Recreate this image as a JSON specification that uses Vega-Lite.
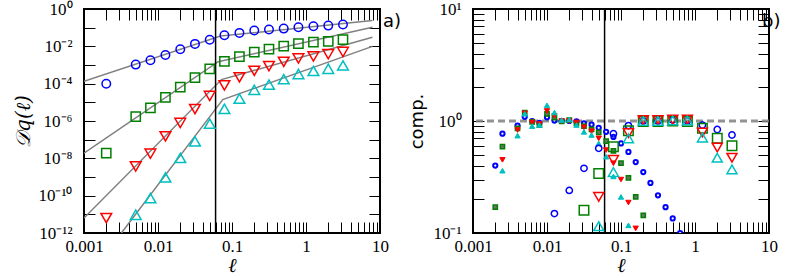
{
  "$schema": "https://vega.github.io/schema/vega-lite/v6.json",
  "autosize": {"type": "none"},
  "padding": {"left": 84, "top": 9, "right": 705, "bottom": 269},
  "background": "white",
  "config": {
    "view": {"stroke": "black", "strokeWidth": 2},
    "axis": {"domain": false, "grid": false, "labelFont": "Liberation Serif", "labelFontSize": 17, "labelColor": "black", "titleColor": "black", "labelFlush": false, "labelOverlap": false, "titleFontWeight": "normal"}
  },
  "datasets": {
    "fits": [
      {"s": "s1", "x": 0.001, "D": 1.35e-4}, {"s": "s1", "x": 0.07, "D": 0.0355}, {"s": "s1", "x": 7.9, "D": 0.24},
      {"s": "s2", "x": 0.001, "D": 1.9e-8}, {"s": "s2", "x": 0.065, "D": 0.00151}, {"s": "s2", "x": 7.9, "D": 0.105},
      {"s": "s3", "x": 0.001, "D": 6.3e-12}, {"s": "s3", "x": 0.072, "D": 1.66e-4}, {"s": "s3", "x": 7.9, "D": 0.031},
      {"s": "s4", "x": 0.0032, "D": 1e-12}, {"s": "s4", "x": 0.075, "D": 1.41e-5}, {"s": "s4", "x": 7.9, "D": 0.01}
    ],
    "pts": [
      {"s": "s1", "x": 0.002, "D": 9.8e-5}, {"s": "s1", "x": 0.005, "D": 1.05e-3}, {"s": "s1", "x": 0.0079, "D": 1.78e-3}, {"s": "s1", "x": 0.0126, "D": 3.47e-3}, {"s": "s1", "x": 0.02, "D": 6.9e-3}, {"s": "s1", "x": 0.0316, "D": 1.35e-2}, {"s": "s1", "x": 0.05, "D": 2.24e-2}, {"s": "s1", "x": 0.079, "D": 3.89e-2}, {"s": "s1", "x": 0.126, "D": 5.25e-2}, {"s": "s1", "x": 0.2, "D": 7.08e-2}, {"s": "s1", "x": 0.316, "D": 7.94e-2}, {"s": "s1", "x": 0.5, "D": 8.91e-2}, {"s": "s1", "x": 0.79, "D": 0.105}, {"s": "s1", "x": 1.26, "D": 0.12}, {"s": "s1", "x": 2, "D": 0.129}, {"s": "s1", "x": 3.16, "D": 0.148},
      {"s": "s2", "x": 0.002, "D": 1.9e-8}, {"s": "s2", "x": 0.005, "D": 1.7e-6}, {"s": "s2", "x": 0.0079, "D": 5.0e-6}, {"s": "s2", "x": 0.0126, "D": 1.86e-5}, {"s": "s2", "x": 0.02, "D": 6.46e-5}, {"s": "s2", "x": 0.0316, "D": 2.09e-4}, {"s": "s2", "x": 0.05, "D": 6.17e-4}, {"s": "s2", "x": 0.079, "D": 1.55e-3}, {"s": "s2", "x": 0.126, "D": 2.82e-3}, {"s": "s2", "x": 0.2, "D": 4.9e-3}, {"s": "s2", "x": 0.316, "D": 7.08e-3}, {"s": "s2", "x": 0.5, "D": 1.02e-2}, {"s": "s2", "x": 0.79, "D": 1.41e-2}, {"s": "s2", "x": 1.26, "D": 1.66e-2}, {"s": "s2", "x": 2, "D": 1.86e-2}, {"s": "s2", "x": 3.16, "D": 2.29e-2},
      {"s": "s3", "x": 0.002, "D": 6.3e-12}, {"s": "s3", "x": 0.005, "D": 3.7e-9}, {"s": "s3", "x": 0.0079, "D": 1.78e-8}, {"s": "s3", "x": 0.0126, "D": 1.51e-7}, {"s": "s3", "x": 0.02, "D": 7.9e-7}, {"s": "s3", "x": 0.0316, "D": 4.37e-6}, {"s": "s3", "x": 0.05, "D": 2.19e-5}, {"s": "s3", "x": 0.079, "D": 8.1e-5}, {"s": "s3", "x": 0.126, "D": 2.19e-4}, {"s": "s3", "x": 0.2, "D": 4.9e-4}, {"s": "s3", "x": 0.316, "D": 8.7e-4}, {"s": "s3", "x": 0.5, "D": 1.48e-3}, {"s": "s3", "x": 0.79, "D": 2.24e-3}, {"s": "s3", "x": 1.26, "D": 2.88e-3}, {"s": "s3", "x": 2, "D": 3.8e-3}, {"s": "s3", "x": 3.16, "D": 5.0e-3},
      {"s": "s4", "x": 0.005, "D": 9.5e-12}, {"s": "s4", "x": 0.0079, "D": 7.4e-11}, {"s": "s4", "x": 0.0126, "D": 9.5e-10}, {"s": "s4", "x": 0.02, "D": 1.05e-8}, {"s": "s4", "x": 0.0316, "D": 8.1e-8}, {"s": "s4", "x": 0.05, "D": 7.2e-7}, {"s": "s4", "x": 0.079, "D": 4.47e-6}, {"s": "s4", "x": 0.126, "D": 1.58e-5}, {"s": "s4", "x": 0.2, "D": 4.68e-5}, {"s": "s4", "x": 0.316, "D": 8.9e-5}, {"s": "s4", "x": 0.5, "D": 1.74e-4}, {"s": "s4", "x": 0.79, "D": 3.3e-4}, {"s": "s4", "x": 1.26, "D": 4.8e-4}, {"s": "s4", "x": 2, "D": 6.3e-4}, {"s": "s4", "x": 3.16, "D": 9.5e-4}
    ],
    "big": [
      {"s": "s1", "x": 0.0126, "c": 0.149}, {"s": "s1", "x": 0.02, "c": 0.24}, {"s": "s1", "x": 0.0316, "c": 0.378}, {"s": "s1", "x": 0.05, "c": 0.57}, {"s": "s1", "x": 0.079, "c": 0.77}, {"s": "s1", "x": 0.126, "c": 0.91}, {"s": "s1", "x": 0.2, "c": 1.0}, {"s": "s1", "x": 0.316, "c": 1.0}, {"s": "s1", "x": 0.5, "c": 1.02}, {"s": "s1", "x": 0.79, "c": 1.0}, {"s": "s1", "x": 1.26, "c": 0.92}, {"s": "s1", "x": 2, "c": 0.84}, {"s": "s1", "x": 3.16, "c": 0.75},
      {"s": "s2", "x": 0.0316, "c": 0.16}, {"s": "s2", "x": 0.05, "c": 0.34}, {"s": "s2", "x": 0.079, "c": 0.59}, {"s": "s2", "x": 0.126, "c": 0.82}, {"s": "s2", "x": 0.2, "c": 0.99}, {"s": "s2", "x": 0.316, "c": 0.99}, {"s": "s2", "x": 0.5, "c": 1.0}, {"s": "s2", "x": 0.79, "c": 0.99}, {"s": "s2", "x": 1.26, "c": 0.86}, {"s": "s2", "x": 2, "c": 0.70}, {"s": "s2", "x": 3.16, "c": 0.60},
      {"s": "s3", "x": 0.05, "c": 0.21}, {"s": "s3", "x": 0.079, "c": 0.45}, {"s": "s3", "x": 0.126, "c": 0.78}, {"s": "s3", "x": 0.2, "c": 1.02}, {"s": "s3", "x": 0.316, "c": 1.02}, {"s": "s3", "x": 0.5, "c": 1.03}, {"s": "s3", "x": 0.79, "c": 1.03}, {"s": "s3", "x": 1.26, "c": 0.79}, {"s": "s3", "x": 2, "c": 0.58}, {"s": "s3", "x": 3.16, "c": 0.47},
      {"s": "s4", "x": 0.05, "c": 0.115}, {"s": "s4", "x": 0.079, "c": 0.35}, {"s": "s4", "x": 0.126, "c": 0.70}, {"s": "s4", "x": 0.2, "c": 1.0}, {"s": "s4", "x": 0.316, "c": 1.0}, {"s": "s4", "x": 0.5, "c": 1.01}, {"s": "s4", "x": 0.79, "c": 1.01}, {"s": "s4", "x": 1.26, "c": 0.71}, {"s": "s4", "x": 2, "c": 0.47}, {"s": "s4", "x": 3.16, "c": 0.37}
    ],
    "small": [
      {"s": "s1", "x": 0.002, "c": 0.40}, {"s": "s1", "x": 0.0025, "c": 0.77}, {"s": "s1", "x": 0.004, "c": 0.91}, {"s": "s1", "x": 0.005, "c": 1.09}, {"s": "s1", "x": 0.0063, "c": 1.0}, {"s": "s1", "x": 0.0079, "c": 0.96}, {"s": "s1", "x": 0.01, "c": 1.08}, {"s": "s1", "x": 0.0126, "c": 1.01}, {"s": "s1", "x": 0.0158, "c": 1.0}, {"s": "s1", "x": 0.02, "c": 1.0}, {"s": "s1", "x": 0.025, "c": 0.99}, {"s": "s1", "x": 0.0316, "c": 0.95}, {"s": "s1", "x": 0.04, "c": 0.93}, {"s": "s1", "x": 0.05, "c": 0.87}, {"s": "s1", "x": 0.063, "c": 0.80}, {"s": "s1", "x": 0.079, "c": 0.72}, {"s": "s1", "x": 0.1, "c": 0.63}, {"s": "s1", "x": 0.126, "c": 0.53}, {"s": "s1", "x": 0.158, "c": 0.43}, {"s": "s1", "x": 0.2, "c": 0.35}, {"s": "s1", "x": 0.25, "c": 0.28}, {"s": "s1", "x": 0.316, "c": 0.217}, {"s": "s1", "x": 0.4, "c": 0.17}, {"s": "s1", "x": 0.5, "c": 0.135}, {"s": "s1", "x": 0.63, "c": 0.1},
      {"s": "s2", "x": 0.002, "c": 0.17}, {"s": "s2", "x": 0.0025, "c": 0.59}, {"s": "s2", "x": 0.004, "c": 0.86}, {"s": "s2", "x": 0.005, "c": 1.19}, {"s": "s2", "x": 0.0063, "c": 0.98}, {"s": "s2", "x": 0.0079, "c": 0.92}, {"s": "s2", "x": 0.01, "c": 1.16}, {"s": "s2", "x": 0.0126, "c": 1.07}, {"s": "s2", "x": 0.0158, "c": 0.99}, {"s": "s2", "x": 0.02, "c": 1.02}, {"s": "s2", "x": 0.025, "c": 0.95}, {"s": "s2", "x": 0.0316, "c": 0.90}, {"s": "s2", "x": 0.04, "c": 0.84}, {"s": "s2", "x": 0.05, "c": 0.79}, {"s": "s2", "x": 0.063, "c": 0.66}, {"s": "s2", "x": 0.079, "c": 0.54}, {"s": "s2", "x": 0.1, "c": 0.42}, {"s": "s2", "x": 0.126, "c": 0.31}, {"s": "s2", "x": 0.158, "c": 0.21}, {"s": "s2", "x": 0.2, "c": 0.144},
      {"s": "s3", "x": 0.0025, "c": 0.45}, {"s": "s3", "x": 0.004, "c": 0.83}, {"s": "s3", "x": 0.005, "c": 1.17}, {"s": "s3", "x": 0.0063, "c": 0.97}, {"s": "s3", "x": 0.0079, "c": 0.94}, {"s": "s3", "x": 0.01, "c": 1.23}, {"s": "s3", "x": 0.0126, "c": 1.11}, {"s": "s3", "x": 0.0158, "c": 1.0}, {"s": "s3", "x": 0.02, "c": 1.0}, {"s": "s3", "x": 0.025, "c": 0.97}, {"s": "s3", "x": 0.0316, "c": 0.88}, {"s": "s3", "x": 0.04, "c": 0.81}, {"s": "s3", "x": 0.05, "c": 0.70}, {"s": "s3", "x": 0.063, "c": 0.55}, {"s": "s3", "x": 0.079, "c": 0.42}, {"s": "s3", "x": 0.1, "c": 0.30}, {"s": "s3", "x": 0.126, "c": 0.187}, {"s": "s3", "x": 0.158, "c": 0.11},
      {"s": "s4", "x": 0.0025, "c": 0.36}, {"s": "s4", "x": 0.004, "c": 0.74}, {"s": "s4", "x": 0.005, "c": 1.16}, {"s": "s4", "x": 0.0063, "c": 0.90}, {"s": "s4", "x": 0.0079, "c": 0.92}, {"s": "s4", "x": 0.01, "c": 1.38}, {"s": "s4", "x": 0.0126, "c": 1.19}, {"s": "s4", "x": 0.0158, "c": 1.02}, {"s": "s4", "x": 0.02, "c": 1.03}, {"s": "s4", "x": 0.025, "c": 0.92}, {"s": "s4", "x": 0.0316, "c": 0.80}, {"s": "s4", "x": 0.04, "c": 0.75}, {"s": "s4", "x": 0.05, "c": 0.63}, {"s": "s4", "x": 0.063, "c": 0.48}, {"s": "s4", "x": 0.079, "c": 0.32}, {"s": "s4", "x": 0.1, "c": 0.21}, {"s": "s4", "x": 0.126, "c": 0.117}
    ]
  },
  "hconcat": [
    {
      "width": 296, "height": 224,
      "resolve": {"axis": {"x": "independent", "y": "independent"}},
      "layer": [
        {"data": {"name": "fits"}, "mark": {"type": "line", "color": "#808080", "strokeWidth": 1.5, "clip": true},
         "encoding": {
           "x": {"field": "x", "type": "quantitative", "scale": {"type": "log", "domain": [0.001, 10], "nice": false},
                 "axis": {"orient": "bottom", "values": [0.001,0.002,0.003,0.004,0.005,0.006,0.007,0.008,0.009,0.01,0.02,0.03,0.04,0.05,0.06,0.07,0.08,0.09,0.1,0.2,0.3,0.4,0.5,0.6,0.7,0.8,0.9,1,2,3,4,5,6,7,8,9,10], "offset": -11, "ticks": true, "tickSize": 11, "tickColor": "#000000", "tickWidth": 1, "labelPadding": 5,
                          "labelExpr": "abs(log(datum.value)/LN10-round(log(datum.value)/LN10))<0.001 ? format(datum.value,'~g') : ''",
                          "title": "ℓ", "titleFont": "Liberation Serif", "titleFontStyle": "italic", "titleFontSize": 20, "titlePadding": 1}},
           "y": {"field": "D", "type": "quantitative", "scale": {"type": "log", "domain": [1e-12, 1], "nice": false},
                 "axis": {"orient": "left", "values": [1e-12,1e-11,1e-10,1e-9,1e-8,1e-7,1e-6,1e-5,1e-4,0.001,0.01,0.1,1], "offset": -11, "ticks": true, "tickSize": 11, "tickColor": "#000000", "tickWidth": 1, "labelPadding": 12,
                          "labelExpr": "['10⁻¹²','','10⁻¹⁰','','10⁻⁸','','10⁻⁶','','10⁻⁴','','10⁻²','','10⁰'][round(log(datum.value)/LN10)+12]",
                          "title": "𝒟q(ℓ)", "titleFont": "DejaVu Serif", "titleFontStyle": "italic", "titleFontSize": 20, "titlePadding": 4}},
           "detail": {"field": "s"}
         }},
        {"data": {"values": [{"x": 0.06}]}, "mark": {"type": "rule", "color": "black", "strokeWidth": 1.5},
         "encoding": {"x": {"field": "x", "type": "quantitative", "scale": {"type": "log", "domain": [0.001, 10], "nice": false},
                 "axis": {"orient": "top", "values": [0.001,0.002,0.003,0.004,0.005,0.006,0.007,0.008,0.009,0.01,0.02,0.03,0.04,0.05,0.06,0.07,0.08,0.09,0.1,0.2,0.3,0.4,0.5,0.6,0.7,0.8,0.9,1,2,3,4,5,6,7,8,9,10], "offset": -11, "ticks": true, "tickSize": 11, "tickColor": "#000000", "tickWidth": 1, "labels": false, "title": null}}}},
        {"data": {"name": "pts"}, "transform": [{"filter": "datum.s=='s1'"}],
         "mark": {"type": "point", "shape": "circle", "filled": false, "stroke": "#0000ff", "strokeWidth": 1.5, "size": 72, "opacity": 1},
         "encoding": {"x": {"field": "x", "type": "quantitative", "scale": {"type": "log", "domain": [0.001, 10], "nice": false}, "axis": null},
                      "y": {"field": "D", "type": "quantitative", "scale": {"type": "log", "domain": [1e-12, 1], "nice": false},
                            "axis": {"orient": "right", "values": [1e-12,1e-11,1e-10,1e-9,1e-8,1e-7,1e-6,1e-5,1e-4,0.001,0.01,0.1,1], "offset": -11, "ticks": true, "tickSize": 11, "tickColor": "#000000", "tickWidth": 1, "labels": false, "title": null}}}},
        {"data": {"name": "pts"}, "transform": [{"filter": "datum.s=='s2'"}],
         "mark": {"type": "point", "shape": "square", "filled": false, "stroke": "#008000", "strokeWidth": 1.5, "size": 85, "opacity": 1},
         "encoding": {"x": {"field": "x", "type": "quantitative", "scale": {"type": "log", "domain": [0.001, 10], "nice": false}, "axis": null},
                      "y": {"field": "D", "type": "quantitative", "scale": {"type": "log", "domain": [1e-12, 1], "nice": false}, "axis": null}}},
        {"data": {"name": "pts"}, "transform": [{"filter": "datum.s=='s3'"}],
         "mark": {"type": "point", "shape": "triangle-down", "filled": false, "stroke": "#ff0000", "strokeWidth": 1.5, "size": 115, "opacity": 1},
         "encoding": {"x": {"field": "x", "type": "quantitative", "scale": {"type": "log", "domain": [0.001, 10], "nice": false}, "axis": null},
                      "y": {"field": "D", "type": "quantitative", "scale": {"type": "log", "domain": [1e-12, 1], "nice": false}, "axis": null}}},
        {"data": {"name": "pts"}, "transform": [{"filter": "datum.s=='s4'"}],
         "mark": {"type": "point", "shape": "triangle-up", "filled": false, "stroke": "#00bfbf", "strokeWidth": 1.5, "size": 115, "opacity": 1},
         "encoding": {"x": {"field": "x", "type": "quantitative", "scale": {"type": "log", "domain": [0.001, 10], "nice": false}, "axis": null},
                      "y": {"field": "D", "type": "quantitative", "scale": {"type": "log", "domain": [1e-12, 1], "nice": false}, "axis": null}}},
        {"data": {"values": [{"x": 10, "D": 0.2, "t": "a)"}]},
         "mark": {"type": "text", "align": "left", "baseline": "middle", "dx": 3, "font": "DejaVu Sans", "fontSize": 18, "color": "black"},
         "encoding": {"x": {"field": "x", "type": "quantitative", "scale": {"type": "log", "domain": [0.001, 10], "nice": false}, "axis": null},
                      "y": {"field": "D", "type": "quantitative", "scale": {"type": "log", "domain": [1e-12, 1], "nice": false}, "axis": null},
                      "text": {"field": "t"}}}
      ]
    },
    {
      "width": 296, "height": 224,
      "resolve": {"axis": {"x": "independent", "y": "independent"}},
      "layer": [
        {"data": {"values": [{"c": 1}]}, "mark": {"type": "rule", "color": "#808080", "strokeWidth": 3, "strokeDash": [7, 4], "opacity": 0.85},
         "encoding": {"y": {"field": "c", "type": "quantitative", "scale": {"type": "log", "domain": [0.1, 10], "nice": false},
                 "axis": {"orient": "left", "values": [0.1,0.2,0.3,0.4,0.5,0.6,0.7,0.8,0.9,1,2,3,4,5,6,7,8,9,10], "offset": -11, "ticks": true, "tickSize": 11, "tickColor": "#000000", "tickWidth": 1, "labelPadding": 12,
                          "labelExpr": "abs(log(datum.value)/LN10-round(log(datum.value)/LN10))<0.001 ? ['10⁻¹','10⁰','10¹'][round(log(datum.value)/LN10)+1] : ''",
                          "title": "comp.", "titleFont": "DejaVu Sans", "titleFontSize": 18, "titlePadding": 6}}}},
        {"data": {"values": [{"x": 0.06}]}, "mark": {"type": "rule", "color": "black", "strokeWidth": 1.5},
         "encoding": {"x": {"field": "x", "type": "quantitative", "scale": {"type": "log", "domain": [0.001, 10], "nice": false},
                 "axis": {"orient": "top", "values": [0.001,0.002,0.003,0.004,0.005,0.006,0.007,0.008,0.009,0.01,0.02,0.03,0.04,0.05,0.06,0.07,0.08,0.09,0.1,0.2,0.3,0.4,0.5,0.6,0.7,0.8,0.9,1,2,3,4,5,6,7,8,9,10], "offset": -11, "ticks": true, "tickSize": 11, "tickColor": "#000000", "tickWidth": 1, "labels": false, "title": null}}}},
        {"data": {"name": "small"}, "transform": [{"filter": "datum.s=='s1'"}],
         "mark": {"type": "point", "shape": "circle", "filled": true, "fill": "#ffffff", "stroke": "#0000ff", "strokeWidth": 2, "size": 18, "opacity": 1, "clip": true},
         "encoding": {"x": {"field": "x", "type": "quantitative", "scale": {"type": "log", "domain": [0.001, 10], "nice": false},
                 "axis": {"orient": "bottom", "values": [0.001,0.002,0.003,0.004,0.005,0.006,0.007,0.008,0.009,0.01,0.02,0.03,0.04,0.05,0.06,0.07,0.08,0.09,0.1,0.2,0.3,0.4,0.5,0.6,0.7,0.8,0.9,1,2,3,4,5,6,7,8,9,10], "offset": -11, "ticks": true, "tickSize": 11, "tickColor": "#000000", "tickWidth": 1, "labelPadding": 5,
                          "labelExpr": "abs(log(datum.value)/LN10-round(log(datum.value)/LN10))<0.001 ? format(datum.value,'~g') : ''",
                          "title": "ℓ", "titleFont": "Liberation Serif", "titleFontStyle": "italic", "titleFontSize": 20, "titlePadding": 1}},
                      "y": {"field": "c", "type": "quantitative", "scale": {"type": "log", "domain": [0.1, 10], "nice": false},
                            "axis": {"orient": "right", "values": [0.1,0.2,0.3,0.4,0.5,0.6,0.7,0.8,0.9,1,2,3,4,5,6,7,8,9,10], "offset": -11, "ticks": true, "tickSize": 11, "tickColor": "#000000", "tickWidth": 1, "labels": false, "title": null}}}},
        {"data": {"name": "small"}, "transform": [{"filter": "datum.s=='s2'"}],
         "mark": {"type": "point", "shape": "square", "filled": true, "fill": "#707070", "stroke": "#008000", "strokeWidth": 1.5, "size": 18, "opacity": 1, "clip": true},
         "encoding": {"x": {"field": "x", "type": "quantitative", "scale": {"type": "log", "domain": [0.001, 10], "nice": false}, "axis": null},
                      "y": {"field": "c", "type": "quantitative", "scale": {"type": "log", "domain": [0.1, 10], "nice": false}, "axis": null}}},
        {"data": {"name": "small"}, "transform": [{"filter": "datum.s=='s3'"}],
         "mark": {"type": "point", "shape": "triangle-down", "filled": true, "fill": "#ff0000", "stroke": "#ff0000", "strokeWidth": 1, "size": 28, "opacity": 1, "clip": true},
         "encoding": {"x": {"field": "x", "type": "quantitative", "scale": {"type": "log", "domain": [0.001, 10], "nice": false}, "axis": null},
                      "y": {"field": "c", "type": "quantitative", "scale": {"type": "log", "domain": [0.1, 10], "nice": false}, "axis": null}}},
        {"data": {"name": "small"}, "transform": [{"filter": "datum.s=='s4'"}],
         "mark": {"type": "point", "shape": "triangle-up", "filled": true, "fill": "#00bfbf", "stroke": "#00bfbf", "strokeWidth": 1, "size": 28, "opacity": 1, "clip": true},
         "encoding": {"x": {"field": "x", "type": "quantitative", "scale": {"type": "log", "domain": [0.001, 10], "nice": false}, "axis": null},
                      "y": {"field": "c", "type": "quantitative", "scale": {"type": "log", "domain": [0.1, 10], "nice": false}, "axis": null}}},
        {"data": {"name": "big"}, "transform": [{"filter": "datum.s=='s1'"}],
         "mark": {"type": "point", "shape": "circle", "filled": false, "stroke": "#0000ff", "strokeWidth": 1.5, "size": 40, "opacity": 1, "clip": true},
         "encoding": {"x": {"field": "x", "type": "quantitative", "scale": {"type": "log", "domain": [0.001, 10], "nice": false}, "axis": null},
                      "y": {"field": "c", "type": "quantitative", "scale": {"type": "log", "domain": [0.1, 10], "nice": false}, "axis": null}}},
        {"data": {"name": "big"}, "transform": [{"filter": "datum.s=='s2'"}],
         "mark": {"type": "point", "shape": "square", "filled": false, "stroke": "#008000", "strokeWidth": 1.5, "size": 90, "opacity": 1, "clip": true},
         "encoding": {"x": {"field": "x", "type": "quantitative", "scale": {"type": "log", "domain": [0.001, 10], "nice": false}, "axis": null},
                      "y": {"field": "c", "type": "quantitative", "scale": {"type": "log", "domain": [0.1, 10], "nice": false}, "axis": null}}},
        {"data": {"name": "big"}, "transform": [{"filter": "datum.s=='s3'"}],
         "mark": {"type": "point", "shape": "triangle-down", "filled": false, "stroke": "#ff0000", "strokeWidth": 1.5, "size": 100, "opacity": 1, "clip": true},
         "encoding": {"x": {"field": "x", "type": "quantitative", "scale": {"type": "log", "domain": [0.001, 10], "nice": false}, "axis": null},
                      "y": {"field": "c", "type": "quantitative", "scale": {"type": "log", "domain": [0.1, 10], "nice": false}, "axis": null}}},
        {"data": {"name": "big"}, "transform": [{"filter": "datum.s=='s4'"}],
         "mark": {"type": "point", "shape": "triangle-up", "filled": false, "stroke": "#00bfbf", "strokeWidth": 1.5, "size": 100, "opacity": 1, "clip": true},
         "encoding": {"x": {"field": "x", "type": "quantitative", "scale": {"type": "log", "domain": [0.001, 10], "nice": false}, "axis": null},
                      "y": {"field": "c", "type": "quantitative", "scale": {"type": "log", "domain": [0.1, 10], "nice": false}, "axis": null}}},
        {"data": {"values": [{"x": 10, "c": 7.7, "t": "b)"}]},
         "mark": {"type": "text", "align": "left", "baseline": "middle", "dx": -7, "font": "DejaVu Sans", "fontSize": 18, "color": "black"},
         "encoding": {"x": {"field": "x", "type": "quantitative", "scale": {"type": "log", "domain": [0.001, 10], "nice": false}, "axis": null},
                      "y": {"field": "c", "type": "quantitative", "scale": {"type": "log", "domain": [0.1, 10], "nice": false}, "axis": null},
                      "text": {"field": "t"}}}
      ]
    }
  ],
  "spacing": 93,
  "bounds": "flush",
  "resolve": {"scale": {"x": "independent", "y": "independent"}}
}
